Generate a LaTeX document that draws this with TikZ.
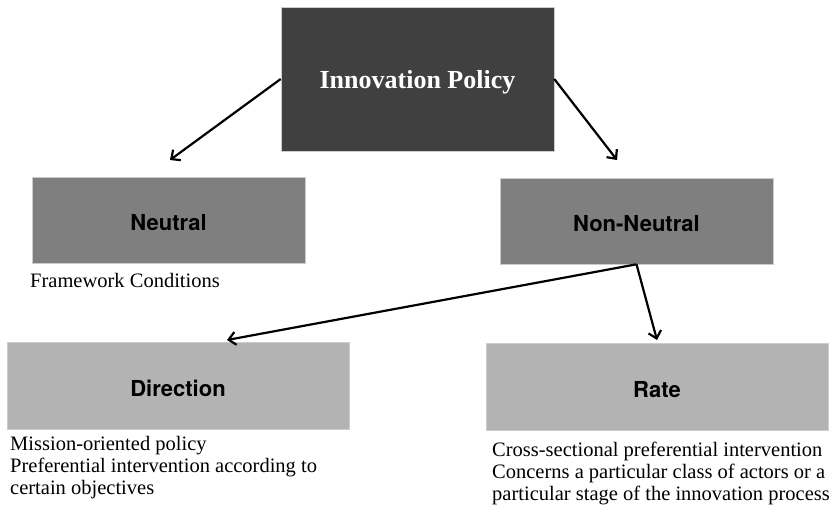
\documentclass[tikz,border=0pt]{standalone}
\usepackage{fontspec}
\setmainfont{Liberation Serif}
\setsansfont{TeX Gyre Heros}
\usetikzlibrary{arrows.meta}
\definecolor{darkbox}{HTML}{404040}
\definecolor{midbox}{HTML}{7F7F7F}
\definecolor{lightbox}{HTML}{B3B3B3}
\tikzset{
  box/.style={draw=white!80!black, line width=0.6pt, inner sep=0pt, minimum width=273pt, minimum height=86pt, text height=21pt, text depth=0pt, font=\sffamily\bfseries\fontsize{22}{26}\selectfont, text=black},
  topbox/.style={box, fill=darkbox, minimum height=144pt, text=white, text height=24pt, text depth=6pt, font=\rmfamily\bfseries\fontsize{26}{30}\selectfont},
  midlevel/.style={box, fill=midbox},
  lowlevel/.style={box, fill=lightbox, minimum width=342pt, minimum height=87pt},
  note/.style={anchor=north west, inner sep=0pt, align=left, font=\rmfamily\fontsize{20.5}{22}\selectfont},
  conn/.style={line width=2.2pt, -{Straight Barb[length=7pt,width=13pt,line width=2.2pt]}}
}
\begin{document}
\begin{tikzpicture}[x=1pt,y=-1pt]
\useasboundingbox (0,0) rectangle (839,507);
\node[topbox] (ip) at (417.5,79) {Innovation Policy};
\node[midlevel] (neutral) at (168.5,220) {Neutral};
\node[midlevel] (nonneutral) at (636.5,221) {Non-Neutral};
\node[lowlevel] (direction) at (178,385.5) {Direction};
\node[lowlevel] (rate) at (657,386.5) {Rate};
\node[note] (fw) at (30,273) {Framework Conditions};
\node[note] (dirtext) at (10,436) {Mission-oriented policy\\Preferential intervention according to\\certain objectives};
\node[note] (ratetext) at (492,442) {Cross-sectional preferential intervention\\Concerns a particular class of actors or a\\particular stage of the innovation process};
\coordinate (tipn) at (170,160);
\coordinate (tipnn) at (617,160);
\coordinate (tipd) at (227,340);
\coordinate (tipr) at (657,340);
\draw[conn] (ip.west) -- (tipn);
\draw[conn] (ip.east) -- (tipnn);
\draw[conn] (nonneutral.south) -- (tipd);
\draw[conn] (nonneutral.south) -- (tipr);
\end{tikzpicture}
\end{document}
